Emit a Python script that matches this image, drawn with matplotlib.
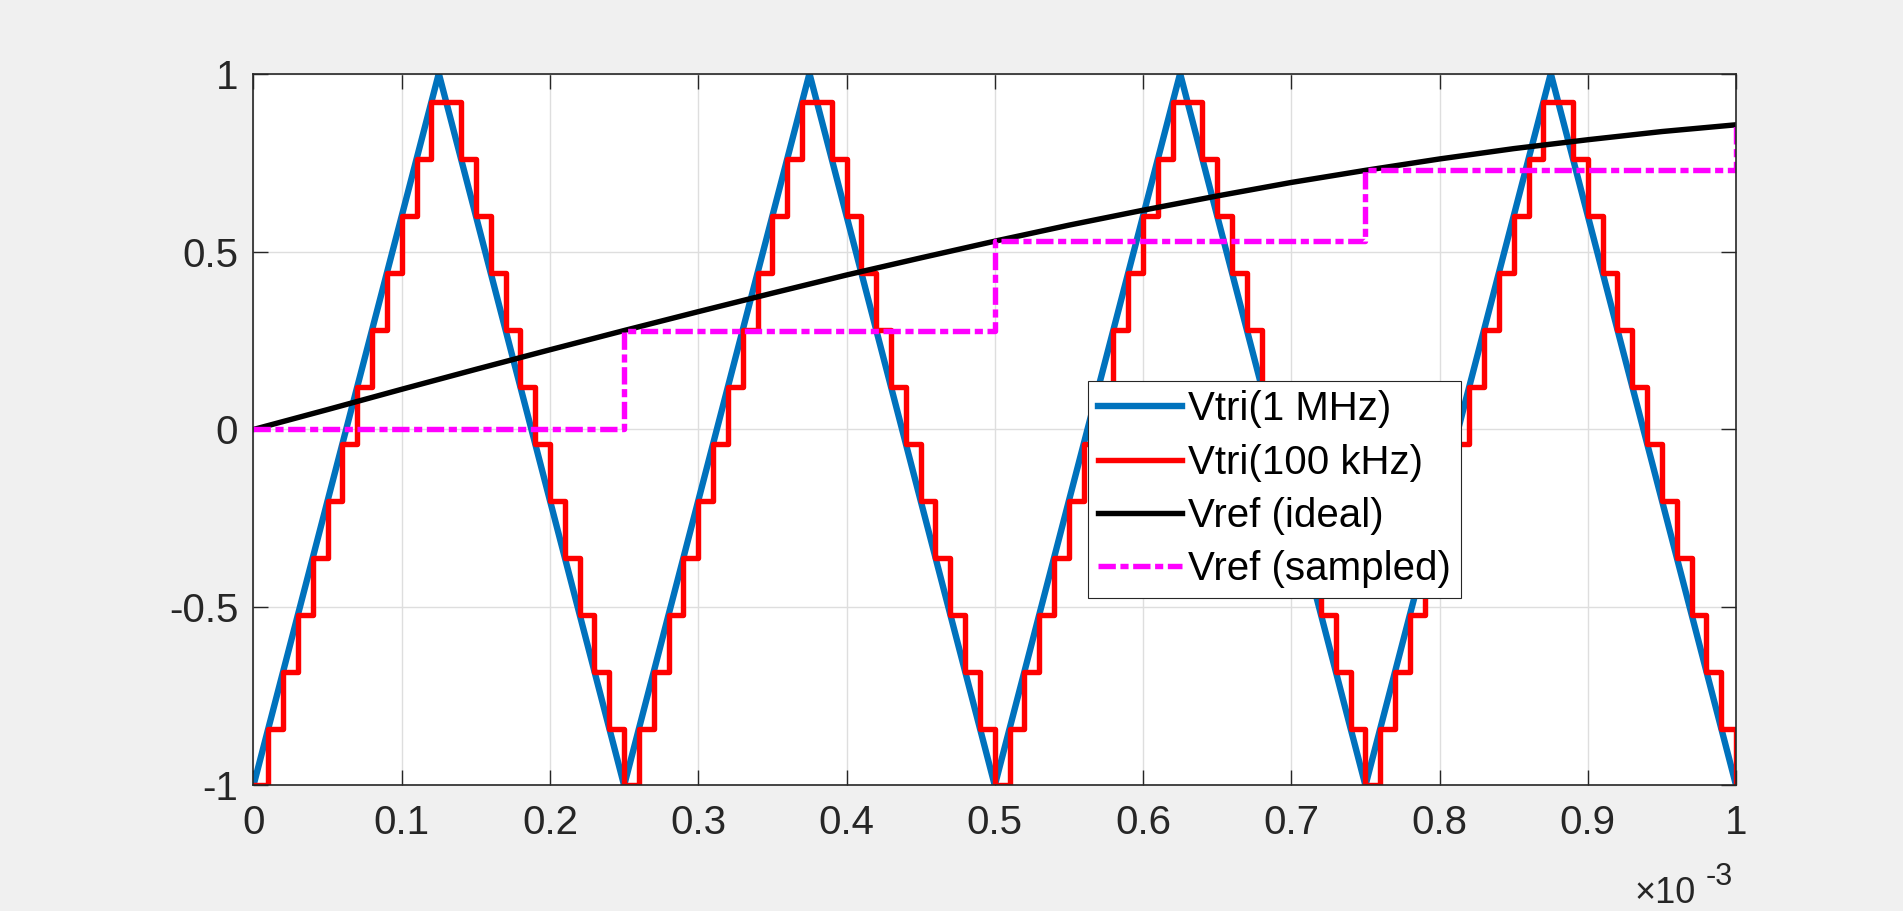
import numpy as np
import matplotlib
matplotlib.use('Agg')
import matplotlib.pyplot as plt
from matplotlib.ticker import FuncFormatter

plt.rcParams['font.family'] = ['Liberation Sans', 'DejaVu Sans']
plt.rcParams['axes.unicode_minus'] = False

# triangle carrier corners (s, V)
tri_t = [0, 0.125e-3, 0.25e-3, 0.375e-3, 0.5e-3, 0.625e-3, 0.75e-3, 0.875e-3, 1e-3]
tri_v = [-1, 1, -1, 1, -1, 1, -1, 1, -1]

# sampled carrier, one value every 10 us
samp_t = np.arange(101) * 1e-5
samp_v = [
    -1, -0.84, -0.68, -0.52, -0.36, -0.2, -0.04, 0.12, 0.28, 0.44, 0.6, 0.76, 0.92,
    0.92, 0.76, 0.6, 0.44, 0.28, 0.12, -0.04, -0.2, -0.36, -0.52, -0.68, -0.84,
    -1, -0.84, -0.68, -0.52, -0.36, -0.2, -0.04, 0.12, 0.28, 0.44, 0.6, 0.76, 0.92,
    0.92, 0.76, 0.6, 0.44, 0.28, 0.12, -0.04, -0.2, -0.36, -0.52, -0.68, -0.84,
    -1, -0.84, -0.68, -0.52, -0.36, -0.2, -0.04, 0.12, 0.28, 0.44, 0.6, 0.76, 0.92,
    0.92, 0.76, 0.6, 0.44, 0.28, 0.12, -0.04, -0.2, -0.36, -0.52, -0.68, -0.84,
    -1, -0.84, -0.68, -0.52, -0.36, -0.2, -0.04, 0.12, 0.28, 0.44, 0.6, 0.76, 0.92,
    0.92, 0.76, 0.6, 0.44, 0.28, 0.12, -0.04, -0.2, -0.36, -0.52, -0.68, -0.84,
    -1,
]

# reference, read every 50 us
ref_t = np.arange(21) * 5e-5
ref_v = [0, 0.056, 0.113, 0.169, 0.224, 0.278, 0.331, 0.383, 0.434, 0.482, 0.529,
         0.574, 0.616, 0.656, 0.694, 0.728, 0.760, 0.789, 0.814, 0.837, 0.856]

# sampled reference
rs_t = [0, 0.25e-3, 0.5e-3, 0.75e-3, 1e-3]
rs_v = [0, 0.278, 0.529, 0.728, 0.856]

fig = plt.figure(figsize=(19.03, 9.11), dpi=100, facecolor='#f0f0f0')
ax = fig.add_axes([0.1332, 0.1378, 0.7791, 0.7815])

ax.plot(tri_t, tri_v, color='#0072bd', lw=4.6, label='Vtri(1 MHz)')
ax.step(samp_t, samp_v, where='post', color='#ff0000', lw=3.9, label='Vtri(100 kHz)')
ax.plot(ref_t, ref_v, color='black', lw=3.9, label='Vref (ideal)')
ax.step(rs_t, rs_v, where='post', color='#ff00ff', lw=3.9, dashes=(3.2, 0.85, 1.5, 0.85),
        label='Vref (sampled)')

ax.set_xlim(0, 1e-3)
ax.set_ylim(-1, 1)
ax.set_xticks(np.arange(11) * 1e-4)
ax.set_yticks([-1, -0.5, 0, 0.5, 1])
ax.xaxis.set_major_formatter(FuncFormatter(lambda v, p: '%g' % round(v * 1e3, 3)))
ax.yaxis.set_major_formatter(FuncFormatter(lambda v, p: '%g' % v))
ax.grid(True, color='#dedede', lw=1.0)
ax.set_axisbelow(True)
ax.tick_params(direction='in', length=10.5, width=1.0, colors='#262626',
               labelsize=29, top=True, right=True, pad=11)
ax.tick_params(axis='x', pad=13)
for s in ax.spines.values():
    s.set_color('#262626')
    s.set_linewidth(1.2)

leg = ax.legend(loc='lower left', bbox_to_anchor=(0.5717, 0.3436), bbox_transform=fig.transFigure,
                borderaxespad=0, fontsize=29, fancybox=False, framealpha=1,
                edgecolor='#262626', handlelength=2.1, handletextpad=0.15,
                labelspacing=0.38, borderpad=0.24)
leg.get_frame().set_linewidth(0.8)

fig.text(0.8590, 0.0088, '\u00d710', fontsize=26, color='#262626', va='baseline')
fig.text(0.8965, 0.0285, '-3', fontsize=22, color='#262626', va='baseline')

fig.savefig('out.png', dpi=100, facecolor=fig.get_facecolor())
